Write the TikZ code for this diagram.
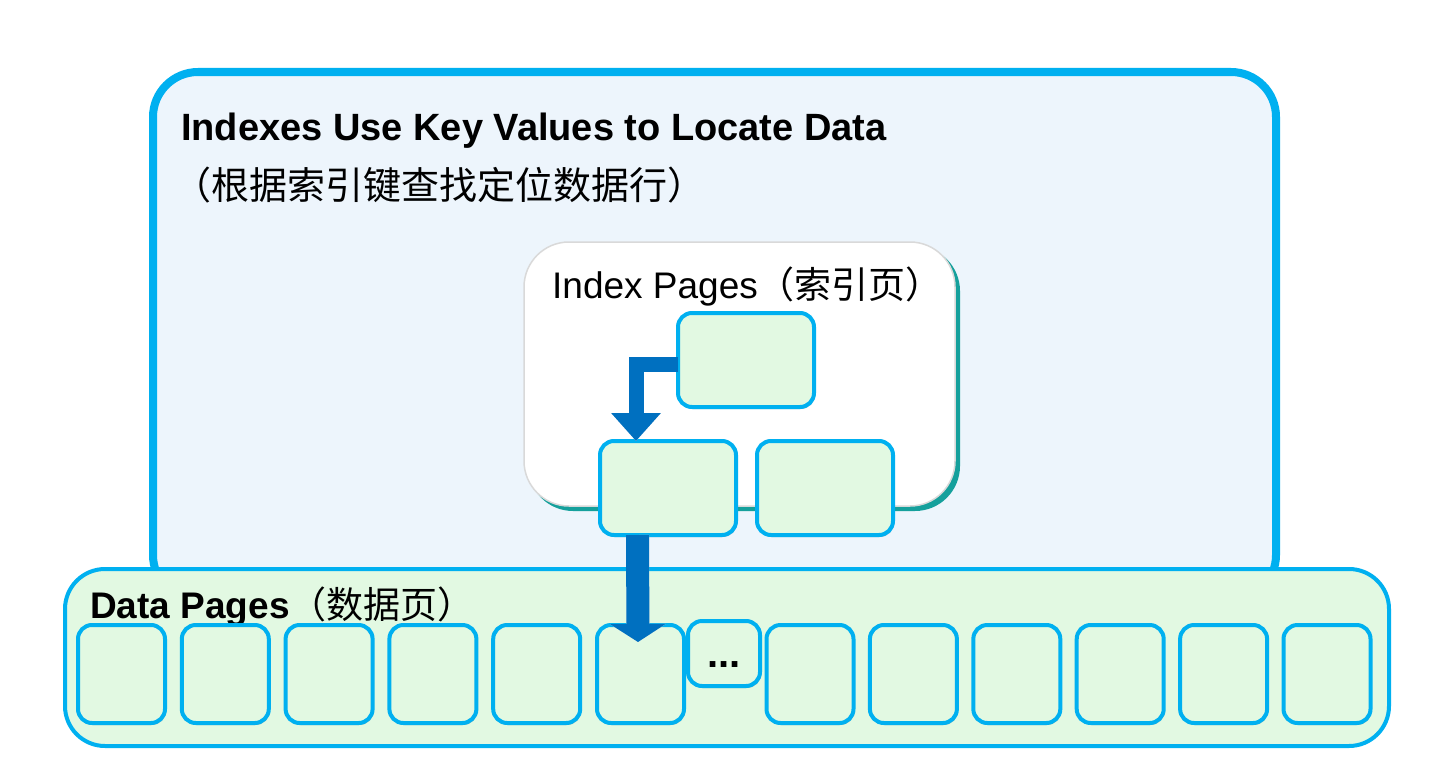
\documentclass[tikz,border=0pt]{standalone}
\usepackage{fontspec}
\setmainfont{Liberation Sans}
\newfontfamily\cjk{Noto Sans CJK SC}
\usetikzlibrary{arrows.meta,shadows}

\definecolor{pagecyan}{HTML}{00B0F0}
\definecolor{arrowblue}{HTML}{0070C0}
\definecolor{outerfill}{HTML}{EDF5FC}
\definecolor{pagefill}{HTML}{E2F9E2}
\definecolor{tealedge}{HTML}{15A09C}

\tikzset{
  pagebox/.style={draw=pagecyan, line width=4pt, fill=pagefill, rounded corners=14pt,
    inner sep=0pt, outer sep=0pt,
    drop shadow={shadow xshift=1pt, shadow yshift=-2pt, opacity=0.35, fill=black!60}},
  bigarrow/.style={draw=arrowblue, line width=#1},
  arrowshade/.style={draw=black!10, line width=#1}
}

\begin{document}
\begin{tikzpicture}[x=1pt,y=-1pt]
\useasboundingbox[fill=white] (0,0) rectangle (1437,784);

% outer frame
\draw[draw=pagecyan, line width=8pt, fill=outerfill, rounded corners=45pt] (153,72) rectangle (1276,600);
\node[anchor=base west, inner sep=0pt] (title) at (181,140)
  {\fontsize{38}{42}\selectfont\bfseries Indexes Use Key Values to Locate Data};
\node[anchor=base west, inner sep=0pt] (subtitle) at (173,199)
  {\fontsize{38}{42}\selectfont\cjk （根据索引键查找定位数据行）};

% index pages
\fill[tealedge, rounded corners=45pt] (528,246) rectangle (960,511);
\node[draw=black!15, line width=1.5pt, fill=white, rounded corners=45pt,
  minimum width=431pt, minimum height=264pt, inner sep=0pt] (indexarea) at (739.5,374) {};
\node[anchor=base west, inner sep=0pt] (indexlabel) at (552,298)
  {\fontsize{37}{40}\selectfont Index Pages{\cjk （索引页）}};

\node[pagebox, minimum width=136pt, minimum height=94pt] (root) at (746,360) {};
\node[pagebox, minimum width=136pt, minimum height=94pt] (leafa) at (668,488) {};
\node[pagebox, minimum width=136pt, minimum height=94pt] (leafb) at (825,488) {};

% data pages
\draw[draw=pagecyan, line width=4pt, fill=pagefill, rounded corners=40pt] (65,569) rectangle (1389,746);
\node[anchor=base west, inner sep=0pt] (datalabel) at (90,618)
  {\fontsize{37}{40}\selectfont\textbf{Data Pages}{\cjk （数据页）}};

\foreach \i in {0,...,5}
  \node[pagebox, minimum width=87pt, minimum height=98pt] (d\i) at (121.5+103.8*\i,674) {};
\foreach \i in {6,...,11}
  \node[pagebox, minimum width=87pt, minimum height=98pt] (d\i) at (810+103.4*\i-620.4,674) {};
\node[pagebox, drop shadow={opacity=0}, minimum width=72pt, minimum height=65pt] (more) at (724,653.5) {};
\node[anchor=base, inner sep=0pt] (dots) at (724,667)
  {\fontsize{40}{40}\selectfont\bfseries ...};

% arrows
\begin{scope}[xshift=6pt, yshift=-6pt]
\draw[arrowshade=15pt, -{Triangle[width=48pt,length=28pt]}] ([yshift=-4pt]root.west) -| ([xshift=-32pt]leafa.north);
\draw[arrowshade=23pt, -{Triangle[width=55pt,length=18pt]}] ([xshift=-30.5pt]leafa.south) -- ([xshift=-2.5pt,yshift=-17pt]d5.north);
\end{scope}
\draw[bigarrow=15pt, -{Triangle[width=48pt,length=28pt]}] ([yshift=-4pt]root.west) -| ([xshift=-32pt]leafa.north);
\draw[bigarrow=23pt, -{Triangle[width=55pt,length=18pt]}] ([xshift=-30.5pt]leafa.south) -- ([xshift=-2.5pt,yshift=-17pt]d5.north);
\end{tikzpicture}
\end{document}
